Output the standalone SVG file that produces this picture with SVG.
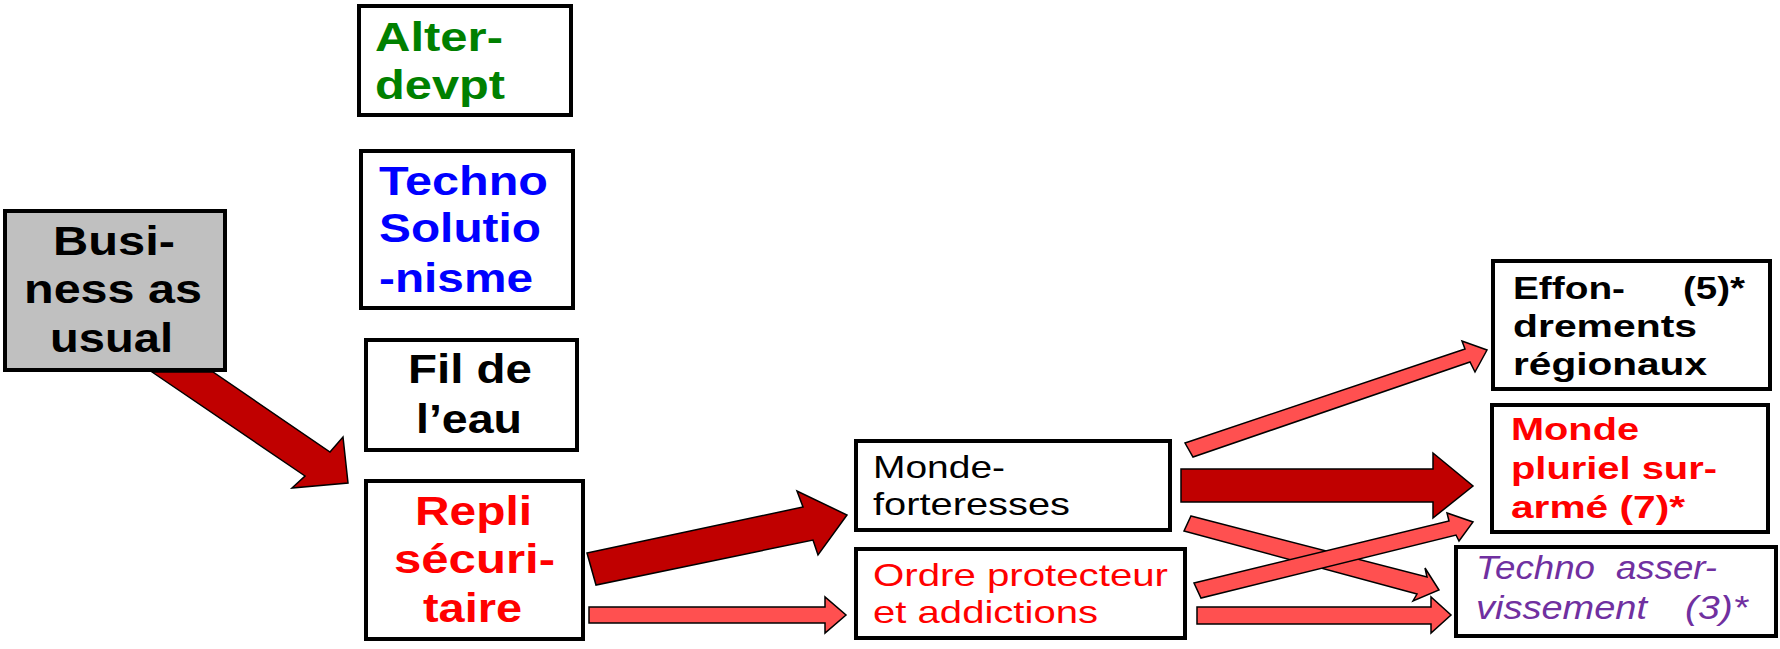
<svg xmlns="http://www.w3.org/2000/svg" width="1780" height="649" viewBox="0 0 1780 649">
<style>
.box{fill:#FFFFFF;stroke:#000000;stroke-width:4}
.gray{fill:#C0C0C0}
.big{font-family:"Liberation Sans",Arial,sans-serif;font-weight:bold;font-size:40px}
.mid{font-family:"Liberation Sans",Arial,sans-serif;font-weight:bold;font-size:32px}
.reg{font-family:"Liberation Sans",Arial,sans-serif;font-size:32px}
.ital{font-family:"Liberation Sans",Arial,sans-serif;font-style:italic;font-size:33px}
.dark{fill:#C00000;stroke:#000000;stroke-width:1.5;stroke-linejoin:miter}
.light{fill:#FF5050;stroke:#000000;stroke-width:1.5;stroke-linejoin:miter}
</style>
<rect width="1780" height="649" fill="#FFFFFF"/>
<g id="alter-devpt">
<rect class="box" x="359" y="6" width="212" height="109"/>
<text class="big" fill="#008000" x="375" y="51" textLength="128" lengthAdjust="spacingAndGlyphs">Alter-</text>
<text class="big" fill="#008000" x="375" y="99" textLength="130" lengthAdjust="spacingAndGlyphs">devpt</text>
</g>
<g id="techno-solutionisme">
<rect class="box" x="361" y="151" width="212" height="157"/>
<text class="big" fill="#0000FF" x="379" y="195" textLength="169" lengthAdjust="spacingAndGlyphs">Techno</text>
<text class="big" fill="#0000FF" x="379" y="242" textLength="162" lengthAdjust="spacingAndGlyphs">Solutio</text>
<text class="big" fill="#0000FF" x="379" y="292" textLength="154" lengthAdjust="spacingAndGlyphs">-nisme</text>
</g>
<g id="business-as-usual">
<rect class="box gray" x="5" y="211" width="220" height="159"/>
<text class="big" fill="#000000" x="53" y="255" textLength="122" lengthAdjust="spacingAndGlyphs">Busi-</text>
<text class="big" fill="#000000" x="24" y="303" textLength="178" lengthAdjust="spacingAndGlyphs">ness as</text>
<text class="big" fill="#000000" x="50" y="352" textLength="123" lengthAdjust="spacingAndGlyphs">usual</text>
</g>
<g id="fil-de-leau">
<rect class="box" x="366" y="340" width="211" height="110"/>
<text class="big" fill="#000000" x="408" y="383" textLength="124" lengthAdjust="spacingAndGlyphs">Fil de</text>
<text class="big" fill="#000000" x="416" y="433" textLength="106" lengthAdjust="spacingAndGlyphs">l’eau</text>
</g>
<g id="repli-securitaire">
<rect class="box" x="366" y="481" width="217" height="158"/>
<text class="big" fill="#FF0000" x="415" y="525" textLength="117" lengthAdjust="spacingAndGlyphs">Repli</text>
<text class="big" fill="#FF0000" x="394" y="573" textLength="161" lengthAdjust="spacingAndGlyphs">sécuri-</text>
<text class="big" fill="#FF0000" x="423" y="622" textLength="99" lengthAdjust="spacingAndGlyphs">taire</text>
</g>
<g id="monde-forteresses">
<rect class="box" x="856" y="441" width="314" height="89"/>
<text class="reg" fill="#000000" x="873" y="478" textLength="132" lengthAdjust="spacingAndGlyphs">Monde-</text>
<text class="reg" fill="#000000" x="873" y="515" textLength="197" lengthAdjust="spacingAndGlyphs">forteresses</text>
</g>
<g id="ordre-protecteur">
<rect class="box" x="856" y="549" width="329" height="89"/>
<text class="reg" fill="#FF0000" x="873" y="586" textLength="295" lengthAdjust="spacingAndGlyphs">Ordre protecteur</text>
<text class="reg" fill="#FF0000" x="873" y="623" textLength="225" lengthAdjust="spacingAndGlyphs">et addictions</text>
</g>
<g id="effondrements">
<rect class="box" x="1493" y="261" width="277" height="128"/>
<text class="mid" fill="#000000" x="1513" y="299" textLength="112" lengthAdjust="spacingAndGlyphs">Effon-</text>
<text class="mid" fill="#000000" x="1683" y="299" textLength="62" lengthAdjust="spacingAndGlyphs">(5)*</text>
<text class="mid" fill="#000000" x="1513" y="337" textLength="184" lengthAdjust="spacingAndGlyphs">drements</text>
<text class="mid" fill="#000000" x="1513" y="375" textLength="194" lengthAdjust="spacingAndGlyphs">régionaux</text>
</g>
<g id="monde-pluriel">
<rect class="box" x="1492" y="405" width="276" height="127"/>
<text class="mid" fill="#FF0000" x="1511" y="440" textLength="128" lengthAdjust="spacingAndGlyphs">Monde</text>
<text class="mid" fill="#FF0000" x="1511" y="479" textLength="206" lengthAdjust="spacingAndGlyphs">pluriel sur-</text>
<text class="mid" fill="#FF0000" x="1511" y="518" textLength="174" lengthAdjust="spacingAndGlyphs">armé (7)*</text>
</g>
<g id="techno-asservissement">
<rect class="box" x="1456" y="547" width="320" height="89"/>
<text class="ital" fill="#7030A0" x="1476" y="579" textLength="119" lengthAdjust="spacingAndGlyphs">Techno</text>
<text class="ital" fill="#7030A0" x="1616" y="579" textLength="101" lengthAdjust="spacingAndGlyphs">asser-</text>
<text class="ital" fill="#7030A0" x="1476" y="619" textLength="171" lengthAdjust="spacingAndGlyphs">vissement</text>
<text class="ital" fill="#7030A0" x="1685" y="619" textLength="63" lengthAdjust="spacingAndGlyphs">(3)*</text>
</g>
<g id="connectors">
<polygon class="dark" points="152,372 305,476 292,488 348,483 343,437 330,452 213,372"/>
<polygon class="dark" points="587,553 803,507 797,491 847,515 818,555 813,540 596,585"/>
<polygon class="light" points="589,607 825,607 825,597 846,615 825,633 825,623 589,623"/>
<polygon class="light" points="1185,443 1465,349 1462,341 1487,350 1475,372 1470,362 1193,457"/>
<polygon class="dark" points="1181,469 1433,469 1433,453 1473,486 1433,518 1433,502 1181,502"/>
<polygon class="light" points="1191,516 1427,577 1425,568 1439,590 1413,601 1417,594 1184,531"/>
<polygon class="light" points="1194,583 1449,521 1447,513 1473,522 1459,541 1456,535 1201,598"/>
<polygon class="light" points="1197,607 1431,607 1431,597 1451,615 1431,633 1431,624 1197,624"/>
</g>
</svg>
